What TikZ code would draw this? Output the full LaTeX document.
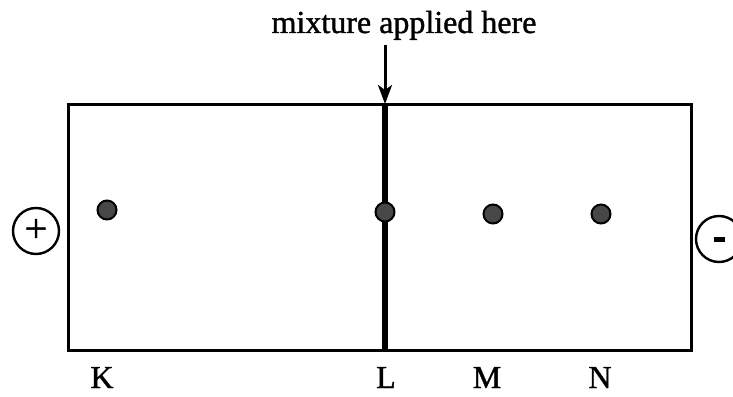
\documentclass[tikz,border=0pt]{standalone}
\usepackage{fontspec}
\setmainfont[FakeBold=1.2]{Liberation Serif}
\usetikzlibrary{arrows.meta}

\begin{document}
\begin{tikzpicture}[x=1pt, y=-1pt, >={Stealth[length=19pt, width=14pt, inset=5pt]},
  spot/.style={circle, fill=black!72, draw=black, line width=2pt, minimum size=19pt, inner sep=0pt},
  pole/.style={circle, draw=black, line width=2.4pt, minimum size=46pt, inner sep=0pt},
  lbl/.style={anchor=base, inner sep=0pt, font=\fontsize{32}{36}\selectfont}]
  \useasboundingbox (0,0) rectangle (733,396);
  % paper strip
  \def\Lx{68}    % left edge
  \def\Rx{691}   % right edge
  \def\Ty{104}   % top edge
  \def\By{350}   % bottom edge
  \def\Sx{385}   % start line

  % 1. Strip and start line
  \draw[line width=3pt] (\Lx,\Ty) rectangle (\Rx,\By);
  \draw[line width=6pt] (\Sx,\Ty) -- (\Sx,\By);

  % 2. Where the mixture goes on
  \node[lbl] (mix) at (404,33) {mixture applied here};
  \coordinate (tip) at (\Sx,\Ty);
  \draw[->, line width=3pt] (tip |- 0,45) -- (tip);

  % 3. Spots
  \node[spot] (dK) at (107,210) {};
  \node[spot] (dL) at (\Sx,212) {};
  \node[spot] (dM) at (493,214) {};
  \node[spot] (dN) at (601,214) {};

  % 4. Electrodes
  \node[pole, font=\fontsize{40}{40}\selectfont] (plus) at (36,231) {\raisebox{1pt}{+}};
  \node[pole] (minus) at (719,239) {\rule[-2.5pt]{11pt}{5pt}};

  % 5. Letters
  \node[lbl] (nK) at (102,388) {K};
  \node[lbl] (nL) at (386,388) {L};
  \node[lbl] (nM) at (487,388) {M};
  \node[lbl] (nN) at (600,388) {N};
\end{tikzpicture}
\end{document}
